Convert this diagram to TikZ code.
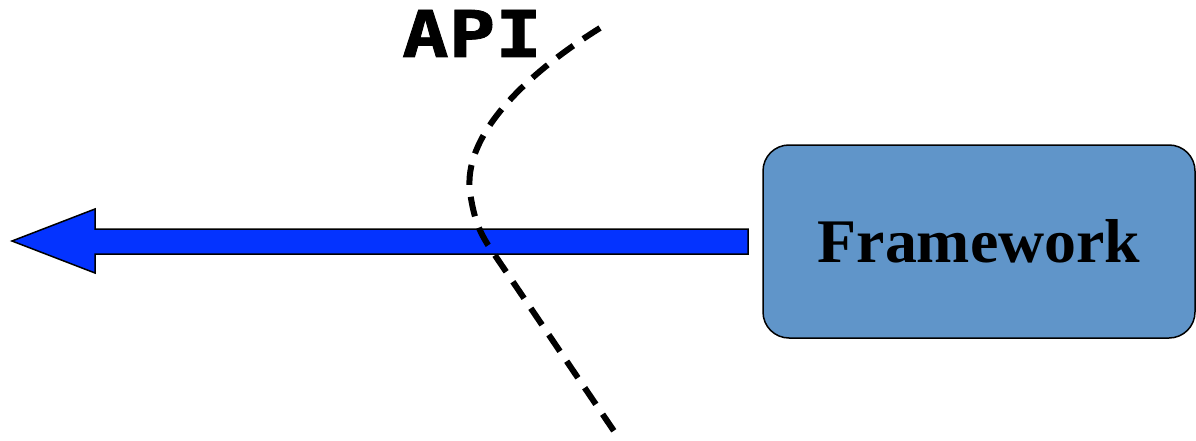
\documentclass[tikz,border=0pt]{standalone}
\usepackage{fontspec}
\setmainfont{Liberation Serif}
\newfontfamily\apifont{DejaVu Sans Mono}
\definecolor{fwblue}{RGB}{96,149,201}
\definecolor{flowblue}{RGB}{4,51,255}
\begin{document}
\begin{tikzpicture}[x=1pt,y=-1pt]
    \useasboundingbox (0,0) rectangle (1196,441);

    \coordinate (T) at (600,28);
    \coordinate (L) at (470,192);
    \coordinate (X) at (488,245);
    \coordinate (E) at (618,437);

    \node[draw,line width=1.5pt,fill=fwblue,rounded corners=26pt,
          minimum width=432pt,minimum height=193pt] (fw) at (979,241.5)
          {\raisebox{-4pt}{\fontsize{62}{70}\selectfont\bfseries\addfontfeature{FakeStretch=1.03}Framework}};

    \draw[line width=1.5pt,fill=flowblue] (748,229) -- (95,229) -- (95,209) -- (12,241)
          -- (95,273) -- (95,254) -- (748,254) -- cycle;

    \draw[line width=6pt,dash pattern=on 20pt off 12pt]
          (T) .. controls (520,78) and (463,138) .. (L)
          .. controls (474,220) and (480,232) .. (X) -- (E);

    \node (api) at (472,57) [anchor=base,inner sep=0pt,xscale=1.2]
          {\apifont\fontsize{64.5}{70}\selectfont\bfseries\addfontfeature{FakeBold=1.2}API};
\end{tikzpicture}
\end{document}
